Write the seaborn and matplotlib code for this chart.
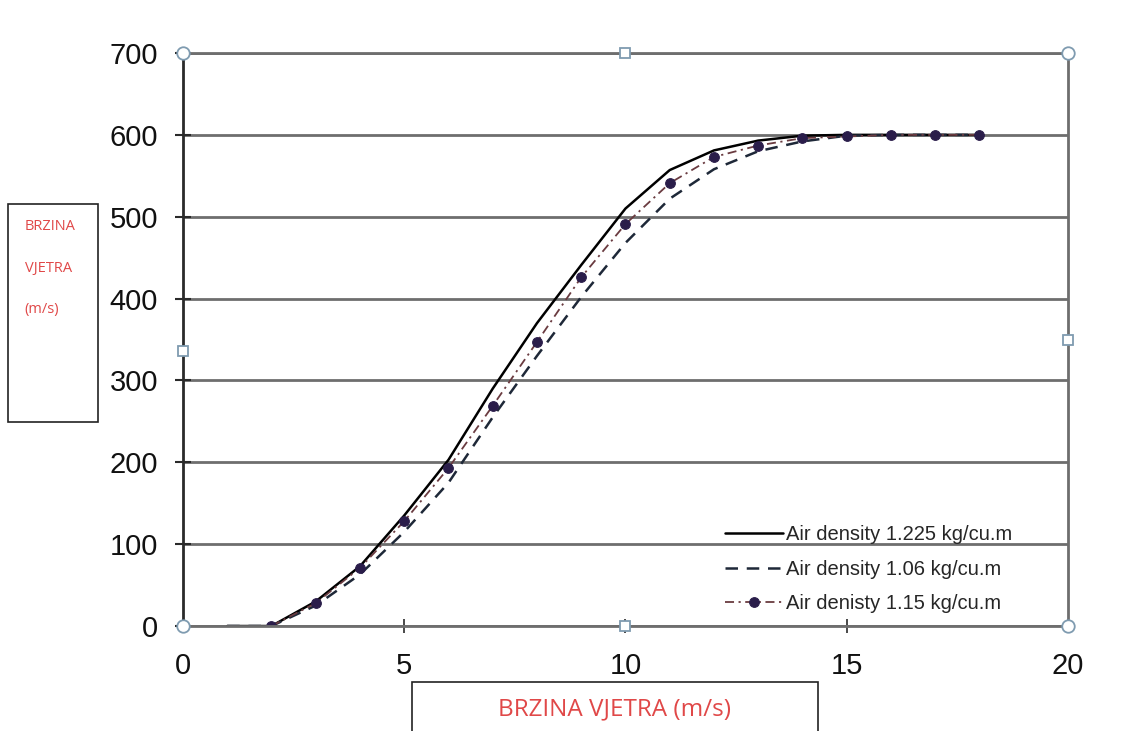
"""krivulja snage vjetroturbine za tri gustoce zraka."""

import matplotlib
matplotlib.use("Agg")
import matplotlib.pyplot as plt
import pandas as pd
import seaborn as sns
from matplotlib.patches import Rectangle

# brzina vjetra (m/s)
wind_a = [1, 2, 3, 4, 5, 6, 7, 8, 9, 10, 11, 12, 13, 14, 15, 16, 17, 18]
power_1225 = [0, 0, 30, 73, 135, 203, 290, 370, 441, 510, 557, 581, 593, 599, 600, 600, 600, 600]
power_106 = [0, 0, 25, 63, 115, 175, 255, 330, 402, 468, 522, 558, 580, 592, 599, 600, 600, 600]

wind_b = [2, 3, 4, 5, 6, 7, 8, 9, 10, 11, 12, 13, 14, 15, 16, 17, 18]
power_115 = [0, 28, 71, 128, 193, 269, 347, 426, 491, 541, 573, 587, 596, 598, 600, 600, 600]

labels = ["Air density 1.225 kg/cu.m", "Air density 1.06 kg/cu.m", "Air denisty 1.15 kg/cu.m"]
x_ticks = [0, 5, 10, 15, 20]
y_ticks = [0, 100, 200, 300, 400, 500, 600, 700]

sns.set_style("white")
plt.rcParams["font.family"] = ["Liberation Sans", "DejaVu Sans"]

fig = plt.figure(figsize=(11.28, 7.31), dpi=100)
ax = fig.add_axes([0.1622, 0.1436, 0.7846, 0.7839])

df_a = pd.DataFrame({"v": wind_a, "p": power_1225})
df_c = pd.DataFrame({"v": wind_a, "p": power_106})
df_b = pd.DataFrame({"v": wind_b, "p": power_115})

sns.lineplot(data=df_a, x="v", y="p", ax=ax, color="black", lw=1.8, label=labels[0])
sns.lineplot(data=df_c, x="v", y="p", ax=ax, color="#1e2838", lw=1.8,
             dashes=False, label=labels[1]).lines[-1].set_dashes([5, 3.5])
sns.lineplot(data=df_b, x="v", y="p", ax=ax, color="#6a3b40", lw=1.3,
             marker="o", markersize=7, markerfacecolor="#2a1d4a",
             markeredgecolor="#2a1d4a", label=labels[2]).lines[-1].set_dashes([5, 2.5, 1.2, 2.5])

ax.set_xlim(0, 20)
ax.set_ylim(0, 700)
ax.set_xticks(x_ticks)
ax.set_yticks(y_ticks)
ax.set_xlabel("")
ax.set_ylabel("")
ax.yaxis.grid(True, color="#6e6e6e", lw=2)
ax.xaxis.grid(False)
ax.set_axisbelow(True)
for side in ["top", "right", "bottom"]:
    ax.spines[side].set_color("#6e6e6e")
    ax.spines[side].set_linewidth(2)
ax.spines["left"].set_color("#2a2a2a")
ax.spines["left"].set_linewidth(2)
ax.tick_params(axis="y", direction="inout", length=12, width=1.5, color="#2a2a2a",
               labelsize=21, labelcolor="#111111", pad=12, left=True)
ax.tick_params(axis="x", direction="inout", length=10, width=1.2, color="#2a2a2a",
               labelsize=21, labelcolor="#111111", pad=14, bottom=True)

leg = ax.legend(loc="lower left", bbox_to_anchor=(0.612, 0.022), frameon=False,
                fontsize=14.5, handlelength=2.9, handletextpad=0.15,
                labelspacing=0.78, borderaxespad=0, borderpad=0)

# oznake odabira (rucke) oko grafa
handle_kw = dict(transform=ax.transAxes, clip_on=False, markerfacecolor="white",
                 markeredgecolor="#7f9bb0", markeredgewidth=1.3, ls="none", zorder=10)
for hx, hy in [(0, 0), (0, 1), (1, 0), (1, 1)]:
    ax.plot([hx], [hy], marker="o", markersize=9, **handle_kw)
for hx, hy in [(0.5, 0), (0.5, 1), (0, 0.48), (1, 0.5)]:
    ax.plot([hx], [hy], marker="s", markersize=7, **handle_kw)

# okvir s oznakom osi y
fig.patches.append(Rectangle((0.0071, 0.4227), 0.0798, 0.2982, transform=fig.transFigure,
                             facecolor="white", edgecolor="#222222", lw=1.2, zorder=20))
for ty, word in zip([0.690, 0.633, 0.576], ["BRZINA", "VJETRA", "(m/s)"]):
    fig.text(0.022, ty, word, color="#e04848", fontsize=10.5, family=["Open Sans", "DejaVu Sans"],
             va="center", ha="left", zorder=21)

# okvir s oznakom osi x
fig.patches.append(Rectangle((0.3652, -0.01), 0.3599, 0.0772, transform=fig.transFigure,
                             facecolor="white", edgecolor="#222222", lw=1.2, zorder=20))
fig.text(0.545, 0.029, "BRZINA VJETRA (m/s)", color="#e04848", fontsize=17.5,
         family=["Open Sans", "DejaVu Sans"], va="center", ha="center", zorder=21)

fig.savefig("out.png", dpi=100)
